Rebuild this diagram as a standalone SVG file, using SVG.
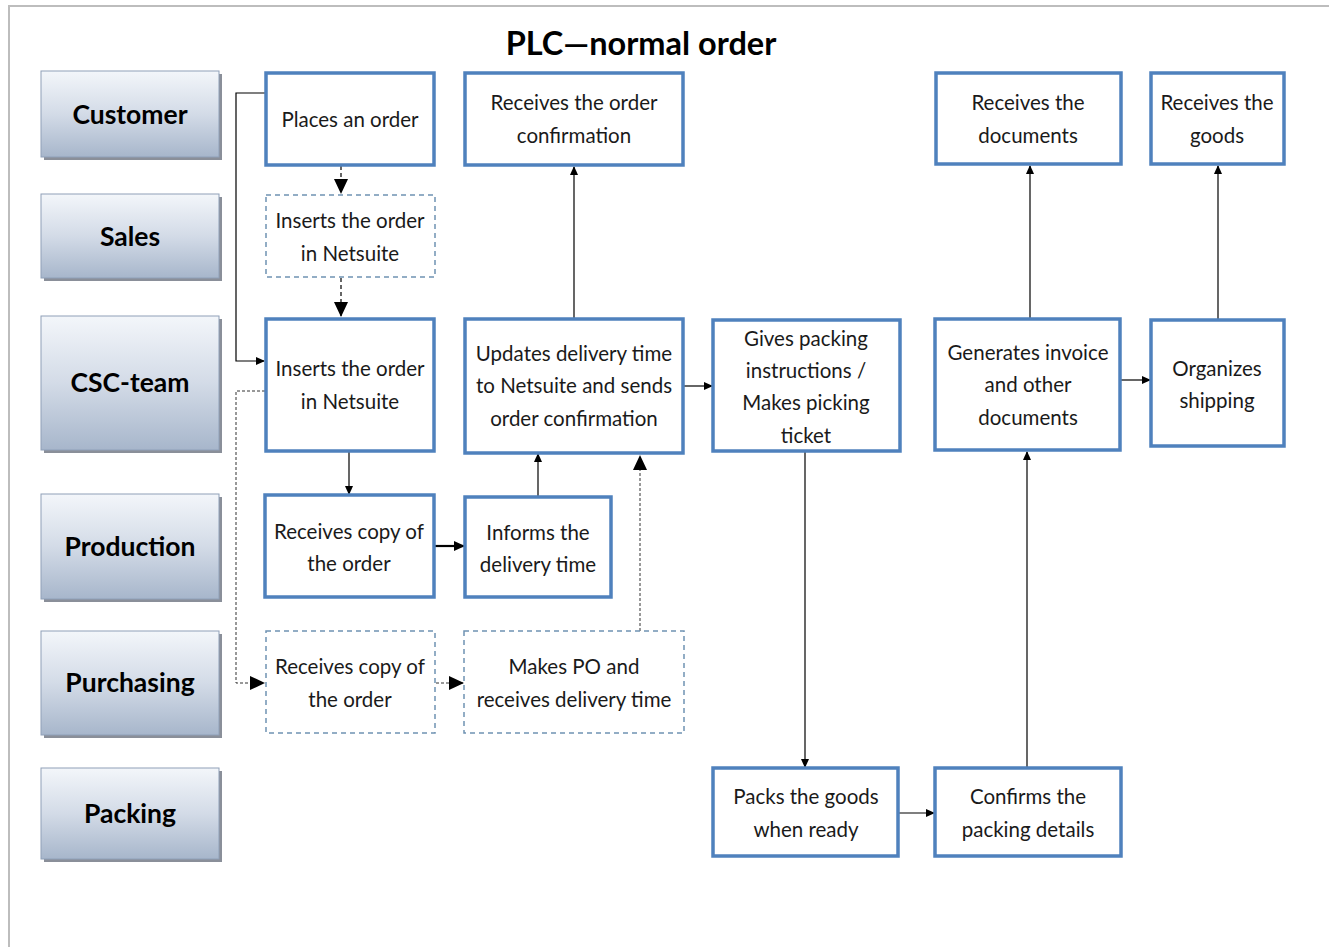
<svg xmlns="http://www.w3.org/2000/svg" width="1329" height="947" viewBox="0 0 1329 947">
  <defs>
    <linearGradient id="laneFill" x1="0" y1="0" x2="0" y2="1">
      <stop offset="0" stop-color="#f3f6fa"/>
      <stop offset="0.5" stop-color="#d3dbe7"/>
      <stop offset="1" stop-color="#a7b6cb"/>
    </linearGradient>
    <marker id="arrSm" markerWidth="10" markerHeight="10" refX="8" refY="4" orient="auto" markerUnits="userSpaceOnUse">
      <path d="M0,0 L9,4 L0,8 Z" fill="#000"/>
    </marker>
    <marker id="arrLg" markerWidth="16" markerHeight="16" refX="14" refY="7" orient="auto" markerUnits="userSpaceOnUse">
      <path d="M0,0 L15,7 L0,14 Z" fill="#000"/>
    </marker>
    <marker id="arrMd" markerWidth="12" markerHeight="12" refX="10" refY="5" orient="auto" markerUnits="userSpaceOnUse">
      <path d="M0,0 L11,5 L0,10 Z" fill="#000"/>
    </marker>
  </defs>
  <style>
    .lane rect.bg { fill: url(#laneFill); stroke: #8fa0b8; stroke-width: 1; }
    .lane rect.sh { fill: #8a8f99; }
    .lane text { font-family: Lato, "Liberation Sans", sans-serif; font-weight: bold; font-size: 26.5px; fill: #000; text-anchor: middle; }
    .box rect { fill: #ffffff; stroke: #4f81bd; stroke-width: 3.5; }
    .dash rect { fill: #ffffff; stroke: #6f92b2; stroke-width: 1.5; stroke-dasharray: 5 4; }
    .node text { font-family: Lato, "Liberation Sans", sans-serif; font-size: 20.5px; fill: #1a1a1a; text-anchor: middle; }
    .title { font-family: Lato, "Liberation Sans", sans-serif; font-weight: bold; font-size: 32.5px; fill: #000; text-anchor: middle; }
    .solid { fill: none; stroke: #000; stroke-width: 1.2; }
    .bold { fill: none; stroke: #000; stroke-width: 2.2; }
    .dashed { fill: none; stroke: #000; stroke-width: 1.2; stroke-dasharray: 4 3; }
    .dotted { fill: none; stroke: #333; stroke-width: 1; stroke-dasharray: 3 2; }
  </style>

  <!-- page frame -->
  <rect x="0" y="0" width="1329" height="947" fill="#ffffff"/>
  <path d="M9,947 L9,6 L1329,6" fill="none" stroke="#bdbdbd" stroke-width="2"/>

  <text class="title" x="641" y="55">PLC—normal order</text>

  <!-- swimlane labels -->
  <g id="lane-customer" class="lane">
    <rect class="sh" x="44" y="74" width="178" height="86"/>
    <rect class="bg" x="41" y="71" width="178" height="86"/>
    <text x="130" y="124">Customer</text>
  </g>
  <g id="lane-sales" class="lane">
    <rect class="sh" x="44" y="197" width="178" height="84"/>
    <rect class="bg" x="41" y="194" width="178" height="84"/>
    <text x="130" y="246">Sales</text>
  </g>
  <g id="lane-csc" class="lane">
    <rect class="sh" x="44" y="319" width="178" height="134"/>
    <rect class="bg" x="41" y="316" width="178" height="134"/>
    <text x="130" y="392">CSC-team</text>
  </g>
  <g id="lane-production" class="lane">
    <rect class="sh" x="44" y="497" width="178" height="105"/>
    <rect class="bg" x="41" y="494" width="178" height="105"/>
    <text x="130" y="556">Production</text>
  </g>
  <g id="lane-purchasing" class="lane">
    <rect class="sh" x="44" y="634" width="178" height="104"/>
    <rect class="bg" x="41" y="631" width="178" height="104"/>
    <text x="130" y="692">Purchasing</text>
  </g>
  <g id="lane-packing" class="lane">
    <rect class="sh" x="44" y="771" width="178" height="91"/>
    <rect class="bg" x="41" y="768" width="178" height="91"/>
    <text x="130" y="823">Packing</text>
  </g>

  <!-- connectors -->
  <g id="connectors">
    <path class="solid" d="M266,93 L236,93 L236,361 L264,361" marker-end="url(#arrSm)"/>
    <path class="dashed" d="M341,166 L341,193" marker-end="url(#arrLg)"/>
    <path class="dashed" d="M341,278 L341,316" marker-end="url(#arrLg)"/>
    <path class="solid" d="M574,318 L574,167" marker-end="url(#arrSm)"/>
    <path class="solid" d="M349,452 L349,494" marker-end="url(#arrSm)"/>
    <path class="bold" d="M435,546 L464,546" marker-end="url(#arrMd)"/>
    <path class="solid" d="M538,497 L538,454" marker-end="url(#arrSm)"/>
    <path class="dotted" d="M265,391 L236,391 L236,683 L264,683" marker-end="url(#arrLg)"/>
    <path class="dotted" d="M436,683 L463,683" marker-end="url(#arrLg)"/>
    <path class="dotted" d="M640,631 L640,456" marker-end="url(#arrLg)"/>
    <path class="solid" d="M684,386 L712,386" marker-end="url(#arrSm)"/>
    <path class="solid" d="M805,452 L805,767" marker-end="url(#arrSm)"/>
    <path class="solid" d="M899,813 L934,813" marker-end="url(#arrSm)"/>
    <path class="solid" d="M1027,767 L1027,452" marker-end="url(#arrSm)"/>
    <path class="solid" d="M1030,318 L1030,166" marker-end="url(#arrSm)"/>
    <path class="solid" d="M1121,380 L1150,380" marker-end="url(#arrSm)"/>
    <path class="solid" d="M1218,319 L1218,166" marker-end="url(#arrSm)"/>
  </g>

  <!-- process steps -->
  <g id="n-places-order" class="node box">
    <rect x="266" y="73" width="168" height="92"/>
    <text x="350" y="127">Places an order</text>
  </g>
  <g id="n-receives-confirmation" class="node box">
    <rect x="465" y="73" width="218" height="92"/>
    <text x="574" y="110">Receives the order</text>
    <text x="574" y="143">confirmation</text>
  </g>
  <g id="n-sales-insert" class="node dash">
    <rect x="266" y="195" width="169" height="82"/>
    <text x="350" y="228">Inserts the order</text>
    <text x="350" y="261">in Netsuite</text>
  </g>
  <g id="n-csc-insert" class="node box">
    <rect x="266" y="319" width="168" height="132"/>
    <text x="350" y="376">Inserts the order</text>
    <text x="350" y="409">in Netsuite</text>
  </g>
  <g id="n-updates-delivery" class="node box">
    <rect x="465" y="319" width="218" height="134"/>
    <text x="574" y="361">Updates delivery time</text>
    <text x="574" y="393">to Netsuite and sends</text>
    <text x="574" y="426">order confirmation</text>
  </g>
  <g id="n-packing-instructions" class="node box">
    <rect x="713" y="320" width="187" height="131"/>
    <text x="806" y="346">Gives packing</text>
    <text x="806" y="378">instructions /</text>
    <text x="806" y="410">Makes picking</text>
    <text x="806" y="443">ticket</text>
  </g>
  <g id="n-generates-invoice" class="node box">
    <rect x="935" y="319" width="185" height="131"/>
    <text x="1028" y="360">Generates invoice</text>
    <text x="1028" y="392">and other</text>
    <text x="1028" y="425">documents</text>
  </g>
  <g id="n-organizes-shipping" class="node box">
    <rect x="1151" y="320" width="133" height="126"/>
    <text x="1217" y="376">Organizes</text>
    <text x="1217" y="408">shipping</text>
  </g>
  <g id="n-receives-documents" class="node box">
    <rect x="936" y="73" width="185" height="91"/>
    <text x="1028" y="110">Receives the</text>
    <text x="1028" y="143">documents</text>
  </g>
  <g id="n-receives-goods" class="node box">
    <rect x="1151" y="73" width="133" height="91"/>
    <text x="1217" y="110">Receives the</text>
    <text x="1217" y="143">goods</text>
  </g>
  <g id="n-production-copy" class="node box">
    <rect x="265" y="495" width="169" height="102"/>
    <text x="349" y="539">Receives copy of</text>
    <text x="349" y="571">the order</text>
  </g>
  <g id="n-informs-delivery" class="node box">
    <rect x="465" y="497" width="146" height="100"/>
    <text x="538" y="540">Informs the</text>
    <text x="538" y="572">delivery time</text>
  </g>
  <g id="n-purchasing-copy" class="node dash">
    <rect x="266" y="631" width="169" height="102"/>
    <text x="350" y="674">Receives copy of</text>
    <text x="350" y="707">the order</text>
  </g>
  <g id="n-makes-po" class="node dash">
    <rect x="464" y="631" width="220" height="102"/>
    <text x="574" y="674">Makes PO and</text>
    <text x="574" y="707">receives delivery time</text>
  </g>
  <g id="n-packs-goods" class="node box">
    <rect x="713" y="768" width="185" height="88"/>
    <text x="806" y="804">Packs the goods</text>
    <text x="806" y="837">when ready</text>
  </g>
  <g id="n-confirms-packing" class="node box">
    <rect x="935" y="768" width="186" height="88"/>
    <text x="1028" y="804">Confirms the</text>
    <text x="1028" y="837">packing details</text>
  </g>
</svg>
